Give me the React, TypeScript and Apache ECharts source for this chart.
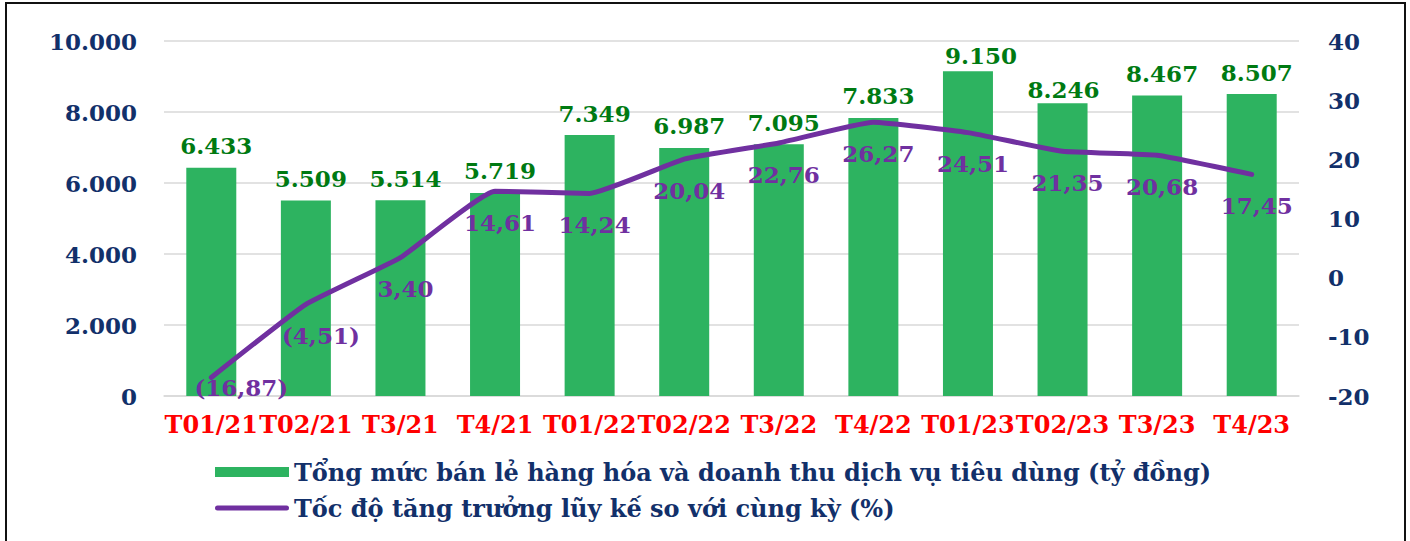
import React, { useEffect, useRef } from "react";
import * as echarts from "echarts";

const categories = ["T01/21", "T02/21", "T3/21", "T4/21", "T01/22", "T02/22", "T3/22", "T4/22", "T01/23", "T02/23", "T3/23", "T4/23"];
const salesValues = [6433, 5509, 5514, 5719, 7349, 6987, 7095, 7833, 9150, 8246, 8467, 8507];
const growthValues = [-16.87, -4.51, 3.4, 14.61, 14.24, 20.04, 22.76, 26.27, 24.51, 21.35, 20.68, 17.45];
const leftTicks = { min: 0, max: 10000, interval: 2000 };
const rightTicks = { min: -20, max: 40, interval: 10 };
const seriesNames = [
  "Tổng mức bán lẻ hàng hóa và doanh thu dịch vụ tiêu dùng (tỷ đồng)",
  "Tốc độ tăng trưởng lũy kế so với cùng kỳ (%)",
];

const FONT = "DejaVu Serif";
const NAVY = "#12306A";
const BAR = "#2DB360";
const LINE = "#7030A0";
const BAR_LABEL = "#007A12";

const fmtThousands = (v: number) => String(Math.round(v)).replace(/\B(?=(\d{3})+(?!\d))/g, ".");
const fmtPct = (v: number) => {
  const s = Math.abs(v).toFixed(2).replace(".", ",");
  return v < 0 ? `(${s})` : s;
};

const barLabelOffsets: Record<number, [number, number]> = { 8: [13, 6], 9: [1, 8] };
const lineLabelOffsets: Record<number, [number, number]> = { 0: [30, 10], 1: [15, 31] };

export default function App() {
  const ref = useRef<HTMLDivElement>(null);
  useEffect(() => {
    if (!ref.current) return;
    const chart = echarts.init(ref.current, undefined, { renderer: "svg" });
    const textBase = { fontFamily: FONT, fontWeight: "bold" as const };
    const option: any = {
      animation: false,
      backgroundColor: "#fff",
      grid: { left: 164, right: 111, top: 41, bottom: 145, containLabel: false },
      legend: {
        orient: "vertical",
        left: 210,
        top: 455,
        itemWidth: 74,
        itemHeight: 10,
        itemGap: 12,
        textStyle: { ...textBase, fontSize: 24, color: NAVY },
        data: [
          { name: seriesNames[0], icon: "rect" },
          { name: seriesNames[1], icon: "path://M2.5,0 L71.5,0 A2.5,2.5 0 0 1 71.5,5 L2.5,5 A2.5,2.5 0 0 1 2.5,0 Z" },
        ],
      },
      xAxis: {
        type: "category",
        data: categories,
        axisLine: { lineStyle: { color: "#D9D9D9", width: 1.5 } },
        axisTick: { show: false },
        axisLabel: { ...textBase, interval: 0, color: "#FF0000", fontSize: 24, margin: 16 },
      },
      yAxis: [
        {
          type: "value",
          ...leftTicks,
          axisLine: { show: false },
          axisTick: { show: false },
          splitLine: { lineStyle: { color: "#D9D9D9", width: 1.5 } },
          axisLabel: { ...textBase, color: NAVY, fontSize: 23, margin: 27, formatter: (v: number) => fmtThousands(v) },
        },
        {
          type: "value",
          ...rightTicks,
          axisLine: { show: false },
          axisTick: { show: false },
          splitLine: { show: false },
          axisLabel: { ...textBase, color: NAVY, fontSize: 23, margin: 29, align: "left" },
        },
      ],
      series: [
        {
          name: seriesNames[0],
          type: "bar",
          barWidth: 50,
          itemStyle: { color: BAR },
          data: salesValues.map((v, i) => ({
            value: v,
            label: { offset: barLabelOffsets[i] || [5, 0] },
          })),
          label: {
            show: true,
            position: "top",
            distance: 11,
            ...textBase,
            fontSize: 23,
            lineHeight: 22,
            color: BAR_LABEL,
            formatter: (p: any) => fmtThousands(p.value),
          },
        },
        {
          name: seriesNames[1],
          type: "line",
          yAxisIndex: 1,
          symbol: "circle",
          symbolSize: 1,
          smooth: 0.12,
          itemStyle: { color: LINE },
          lineStyle: { color: LINE, width: 5, join: "round", cap: "round" },
          data: growthValues.map((v, i) => ({
            value: v,
            label: { offset: lineLabelOffsets[i] || [5, 31] },
          })),
          label: {
            show: true,
            position: "inside",
            ...textBase,
            fontSize: 23,
            lineHeight: 22,
            color: LINE,
            formatter: (p: any) => fmtPct(p.value),
          },
        },
      ],
    };
    chart.setOption(option);
    const p = chart.convertToPixel({ seriesIndex: 1 }, [1, growthValues[1]]) as number[];
    chart.setOption({
      graphic: [
        {
          type: "rect",
          shape: { x: 6, y: 3, width: 1399, height: 600 },
          style: { fill: "none", stroke: "#111", lineWidth: 2 },
          silent: true,
        },
        {
          type: "line",
          shape: { x1: p[0], y1: p[1], x2: p[0] + 11, y2: p[1] + 12 },
          style: { stroke: "#A6A6A6", lineWidth: 1.5 },
          silent: true,
        },
      ],
    });
    return () => chart.dispose();
  }, []);
  return <div ref={ref} style={{ position: "absolute", left: 0, top: 0, width: 1410, height: 541 }} />;
}
